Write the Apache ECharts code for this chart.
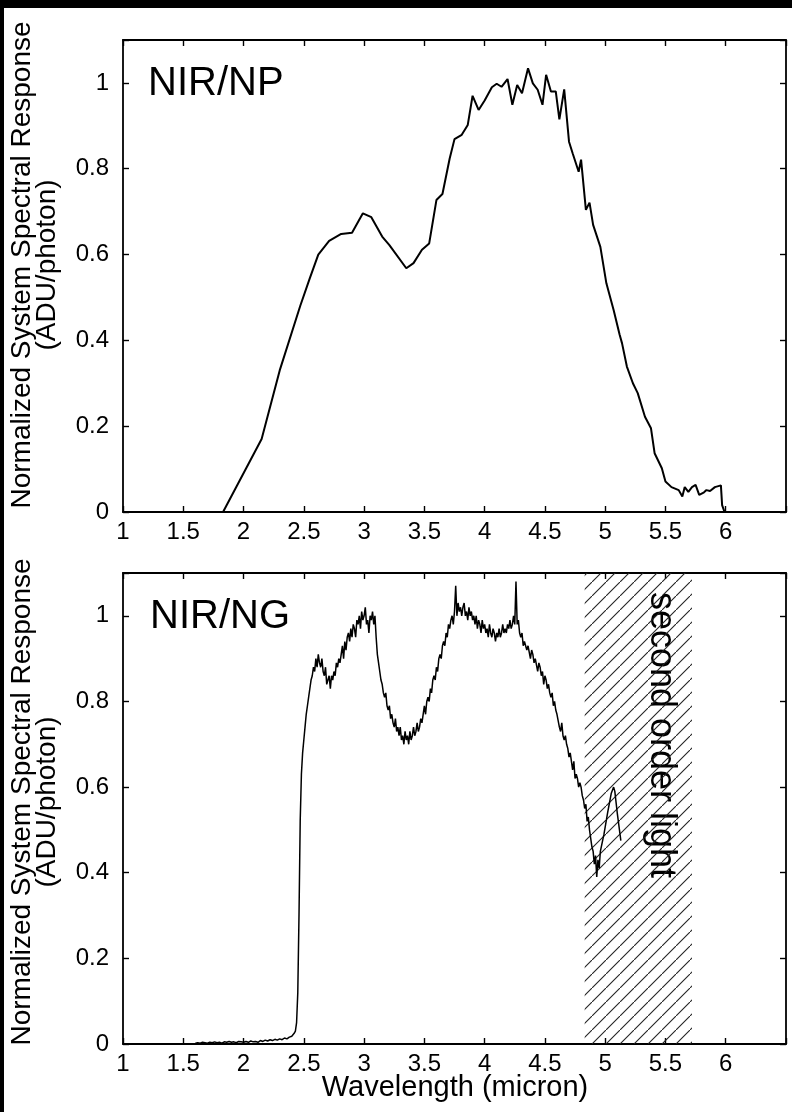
<!DOCTYPE html>
<html><head><meta charset="utf-8">
<script src="https://cdn.jsdelivr.net/npm/echarts@6/dist/echarts.min.js"></script>
<style>
html,body{margin:0;padding:0;background:#000;width:792px;height:1112px;overflow:hidden}
#chart{position:absolute;left:4px;top:8px;width:788px;height:1104px;background:#fff}
</style></head><body><div id="chart"></div>
<script>
// ---- data ----
const npWavelength = [1.83,2.15,2.3,2.47,2.55,2.62,2.71,2.81,2.90,2.99,3.06,3.15,3.21,3.35,3.41,3.48,3.54,3.60,3.65,3.71,3.75,3.81,3.86,3.90,3.95,4.00,4.06,4.10,4.14,4.19,4.23,4.27,4.31,4.36,4.40,4.44,4.48,4.51,4.55,4.59,4.62,4.66,4.70,4.73,4.78,4.80,4.84,4.87,4.90,4.96,5.01,5.07,5.12,5.14,5.18,5.23,5.27,5.33,5.38,5.41,5.47,5.50,5.55,5.61,5.64,5.66,5.69,5.72,5.75,5.78,5.82,5.84,5.87,5.91,5.96,5.97,5.99];
const npResponse = [0,0.17,0.33,0.48,0.545,0.60,0.632,0.648,0.651,0.696,0.687,0.642,0.622,0.568,0.58,0.611,0.626,0.727,0.741,0.824,0.869,0.879,0.902,0.970,0.937,0.959,0.990,0.998,0.991,1.009,0.949,0.995,0.976,1.034,0.999,0.984,0.949,1.019,0.980,0.980,0.915,0.985,0.863,0.836,0.793,0.821,0.704,0.721,0.669,0.618,0.533,0.471,0.413,0.393,0.339,0.300,0.277,0.222,0.195,0.137,0.102,0.071,0.058,0.051,0.036,0.058,0.047,0.058,0.063,0.040,0.046,0.051,0.049,0.058,0.062,0.016,0.0];

const ngWavelength = [
1.60,1.62,1.64,1.66,1.68,1.70,1.72,1.74,1.76,1.78,1.80,1.82,1.84,1.86,1.88,1.90,1.92,1.94,1.96,1.98,
2.00,2.02,2.04,2.06,2.08,2.10,2.12,2.14,2.16,2.18,2.20,2.22,2.24,2.26,2.28,2.30,2.32,2.34,2.36,2.38,
2.40,2.41,2.42,2.43,2.44,2.45,2.46,2.47,2.48,2.49,2.50,2.51,2.52,2.53,2.54,2.55,2.56,2.57,2.58,2.59,
2.60,2.61,2.62,2.63,2.64,2.65,2.66,2.67,2.68,2.69,2.70,2.71,2.72,2.73,2.74,2.75,2.76,2.77,2.78,2.79,
2.80,2.81,2.82,2.83,2.84,2.85,2.86,2.87,2.88,2.89,2.90,2.91,2.92,2.93,2.94,2.95,2.96,2.97,2.98,2.99,
3.00,3.01,3.02,3.03,3.04,3.05,3.06,3.07,3.08,3.09,3.10,3.11,3.12,3.13,3.14,3.15,3.16,3.17,3.18,3.19,
3.20,3.21,3.22,3.23,3.24,3.25,3.26,3.27,3.28,3.29,3.30,3.31,3.32,3.33,3.34,3.35,3.36,3.37,3.38,3.39,
3.40,3.41,3.42,3.43,3.44,3.45,3.46,3.47,3.48,3.49,3.50,3.51,3.52,3.53,3.54,3.55,3.56,3.57,3.58,3.59,
3.60,3.61,3.62,3.63,3.64,3.65,3.66,3.67,3.68,3.69,3.70,3.71,3.72,3.73,3.74,3.75,3.76,3.77,3.78,3.79,
3.80,3.81,3.82,3.83,3.84,3.85,3.86,3.87,3.88,3.89,3.90,3.91,3.92,3.93,3.94,3.95,3.96,3.97,3.98,3.99,
4.00,4.01,4.02,4.03,4.04,4.05,4.06,4.07,4.08,4.09,4.10,4.11,4.12,4.13,4.14,4.15,4.16,4.17,4.18,4.19,
4.20,4.21,4.22,4.23,4.24,4.25,4.26,4.27,4.28,4.29,4.30,4.31,4.32,4.33,4.34,4.35,4.36,4.37,4.38,4.39,
4.40,4.41,4.42,4.43,4.44,4.45,4.46,4.47,4.48,4.49,4.50,4.51,4.52,4.53,4.54,4.55,4.56,4.57,4.58,4.59,
4.60,4.61,4.62,4.63,4.64,4.65,4.66,4.67,4.68,4.69,4.70,4.71,4.72,4.73,4.74,4.75,4.76,4.77,4.78,4.79,
4.80,4.81,4.82,4.83,4.84,4.85,4.86,4.87,4.88,4.89,4.90,4.91,4.92,4.93,4.94,4.95,4.96,
4.99,5.02,5.05,5.07,5.08,5.10,5.13];
const ngResponse = [
0.002,0.003,0.002,0.004,0.003,0.002,0.004,0.003,0.005,0.003,0.004,0.002,0.005,0.004,0.006,0.004,0.005,0.003,0.006,0.005,
0.004,0.006,0.004,0.007,0.005,0.006,0.004,0.008,0.006,0.009,0.007,0.010,0.008,0.011,0.009,0.012,0.010,0.014,0.012,0.016,
0.018,0.022,0.025,0.03,0.05,0.12,0.30,0.52,0.63,0.68,0.71,0.74,0.77,0.79,0.81,0.83,0.85,0.86,0.88,0.87,
0.90,0.88,0.91,0.89,0.88,0.90,0.87,0.86,0.88,0.84,0.85,0.86,0.83,0.86,0.85,0.87,0.86,0.89,0.88,0.90,
0.89,0.91,0.93,0.90,0.94,0.92,0.95,0.96,0.94,0.97,0.95,0.98,0.97,0.95,0.99,0.98,1.00,0.97,1.01,0.99,
1.00,1.02,0.98,0.99,0.96,1.00,0.99,1.01,0.98,1.00,0.95,0.91,0.89,0.87,0.85,0.84,0.82,0.81,0.82,0.79,
0.78,0.79,0.76,0.77,0.75,0.74,0.76,0.73,0.74,0.72,0.74,0.71,0.72,0.70,0.73,0.71,0.72,0.70,0.73,0.71,
0.72,0.74,0.72,0.73,0.75,0.73,0.74,0.76,0.75,0.77,0.79,0.77,0.80,0.81,0.80,0.83,0.82,0.85,0.86,0.85,
0.88,0.87,0.90,0.91,0.90,0.93,0.94,0.93,0.96,0.95,0.98,0.97,0.99,1.00,0.98,1.01,1.07,1.00,1.03,1.01,
1.02,1.00,1.02,1.03,1.00,1.01,0.99,1.02,1.00,1.01,0.99,1.00,0.98,1.00,0.97,0.99,0.98,0.96,0.99,0.97,
0.98,0.96,0.97,0.95,0.98,0.96,0.95,0.97,0.96,0.94,0.96,0.95,0.97,0.95,0.96,0.98,0.96,0.97,0.96,0.98,
0.97,0.99,0.97,0.98,1.00,0.98,1.08,0.98,0.99,0.96,0.95,0.96,0.93,0.94,0.94,0.92,0.93,0.93,0.90,0.92,
0.91,0.89,0.90,0.90,0.87,0.89,0.88,0.86,0.87,0.84,0.86,0.85,0.83,0.84,0.82,0.81,0.82,0.79,0.80,0.78,
0.77,0.77,0.74,0.73,0.75,0.72,0.71,0.72,0.70,0.69,0.67,0.68,0.66,0.64,0.66,0.62,0.63,0.62,0.60,0.61,
0.60,0.58,0.57,0.55,0.56,0.52,0.53,0.50,0.48,0.46,0.45,0.42,0.44,0.39,0.43,0.41,0.45,
0.49,0.54,0.585,0.60,0.59,0.54,0.475];

const secondOrderRange = [4.83, 5.72];
const xTickLabels = ['1','1.5','2','2.5','3','3.5','4','4.5','5','5.5','6'];
const yTickLabels = ['0','0.2','0.4','0.6','0.8','1'];
const panelLabels = ['NIR/NP','NIR/NG'];
const yTitle = ['Normalized System Spectral Response','(ADU/photon)'];
const xTitle = 'Wavelength (micron)';
const hatchNote = 'second order light';

// ---- build ----
const FONT = '"Liberation Sans", Arial, Helvetica, sans-serif';
const chart = echarts.init(document.getElementById('chart'), null, {renderer:'canvas'});

function xLabel(v){
  const s = String(+v.toFixed(2));
  return xTickLabels.indexOf(s) >= 0 ? s : '';
}
function yLabel(v){
  const s = String(+v.toFixed(2));
  return yTickLabels.indexOf(s) >= 0 ? s : '';
}
const axisLine = {show:true, onZero:false, lineStyle:{color:'#000', width:1.8}};
const axisTick = {show:true, inside:true, length:6, lineStyle:{color:'#000', width:1.4}};

function xAxes(gi){
  return [
    {type:'value', gridIndex:gi, position:'bottom', min:1, max:6.5, interval:0.5,
     axisLine, axisTick, splitLine:{show:false},
     axisLabel:{formatter:xLabel, color:'#000', fontSize:24, fontFamily:FONT, margin:8}},
    {type:'value', gridIndex:gi, position:'top', min:1, max:6.5, interval:0.5,
     axisLine, axisTick, splitLine:{show:false}, axisLabel:{show:false}}
  ];
}
function yAxes(gi){
  return [
    {type:'value', gridIndex:gi, position:'left', min:0, max:1.1, interval:0.2,
     axisLine, axisTick, splitLine:{show:false},
     axisLabel:{formatter:yLabel, color:'#000', fontSize:24, fontFamily:FONT, margin:14}},
    {type:'value', gridIndex:gi, position:'right', min:0, max:1.1, interval:0.2,
     axisLine, axisTick, splitLine:{show:false}, axisLabel:{show:false}}
  ];
}

const hatch = document.createElement('canvas');
hatch.width = 14; hatch.height = 14;
(function(){
  const c = hatch.getContext('2d');
  c.strokeStyle = '#222'; c.lineWidth = 1.1;
  c.beginPath(); c.moveTo(-2,16); c.lineTo(16,-2); c.stroke();
})();

function pairs(xs, ys){ return xs.map((x,i)=>[x, ys[i]]); }

function textEl(text, x, y, size, rot, align){
  return {type:'text', x, y, rotation:rot||0, silent:true,
    style:{text, fontSize:size, fontFamily:FONT, fill:'#000',
      textAlign:align||'center', textVerticalAlign:'middle'}};
}

const option = {
  animation:false,
  backgroundColor:'#fff',
  grid:[
    {left:119, top:32, width:663, height:472},
    {left:119, top:565, width:663, height:471}
  ],
  xAxis:[...xAxes(0), ...xAxes(1)],
  yAxis:[...yAxes(0), ...yAxes(1)],
  series:[
    {type:'line', xAxisIndex:0, yAxisIndex:0, data:pairs(npWavelength, npResponse),
     showSymbol:false, lineStyle:{color:'#000', width:2}, silent:true},
    {type:'line', xAxisIndex:2, yAxisIndex:2, data:pairs(ngWavelength, ngResponse),
     showSymbol:false, lineStyle:{color:'#000', width:1.5}, silent:true,
     markArea:{silent:true, itemStyle:{color:{image:hatch, repeat:'repeat'}},
       data:[[{xAxis:secondOrderRange[0]},{xAxis:secondOrderRange[1]}]]}}
  ],
  graphic:[
    textEl(yTitle[0], 18, 257, 28, Math.PI/2),
    textEl(yTitle[1], 43, 257, 28, Math.PI/2),
    textEl(yTitle[0], 18, 794, 28, Math.PI/2),
    textEl(yTitle[1], 43, 794, 28, Math.PI/2),
    textEl(panelLabels[0], 144, 76, 40, 0, 'left'),
    textEl(panelLabels[1], 146, 609, 40, 0, 'left'),
    textEl(xTitle, 451, 1080, 29, 0),
    textEl(hatchNote, 657, 727, 36, -Math.PI/2)
  ]
};
chart.setOption(option);
</script></body></html>
